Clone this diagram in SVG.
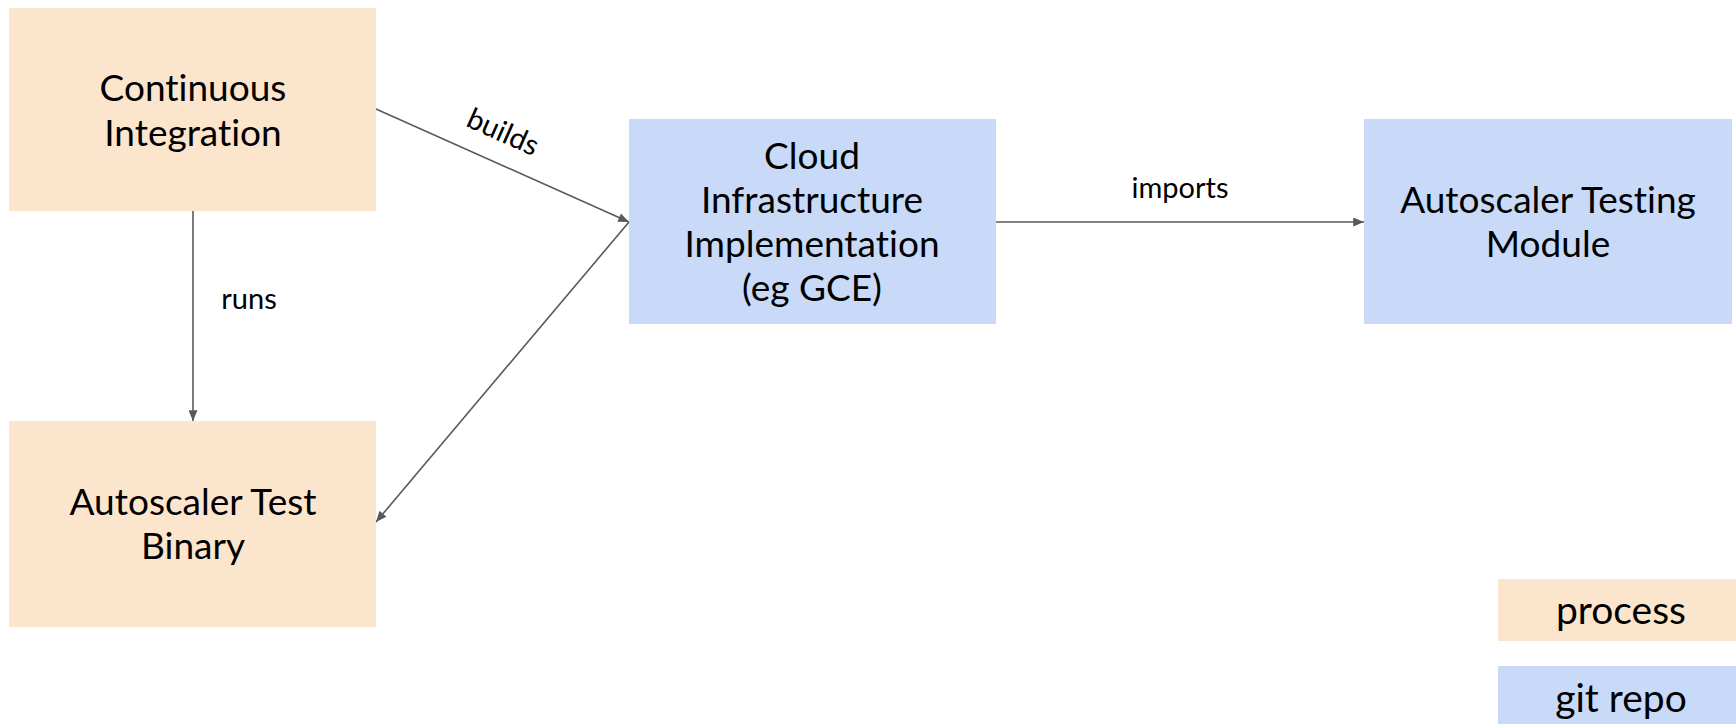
<svg xmlns="http://www.w3.org/2000/svg" width="1736" height="724" viewBox="0 0 1736 724">
<style>
text{font-variant-ligatures:none;font-feature-settings:"liga" 0,"clig" 0}
.proc{fill:#fce5cd}
.repo{fill:#c9daf8}
.t{font-family:Lato,"Liberation Sans",sans-serif;font-size:37px;fill:#000;text-anchor:middle}
.g{font-family:Lato,"Liberation Sans",sans-serif;font-size:39px;fill:#000;text-anchor:middle}
.l{font-family:Lato,"Liberation Sans",sans-serif;font-size:29px;fill:#000;text-anchor:middle}
.c{stroke:#595959;stroke-width:1.6;fill:none;marker-end:url(#ah)}
</style>
<defs>
<marker id="ah" viewBox="0 0 12 10" refX="12" refY="5" markerWidth="12" markerHeight="9" markerUnits="userSpaceOnUse" orient="auto">
<path d="M0,0 L12,5 L0,10 z" fill="#595959"/>
</marker>
</defs>
<rect width="1736" height="724" fill="#fff"/>
<g id="connectors">
<line class="c" x1="193" y1="211" x2="193" y2="421"/>
<text class="l" x="249" y="309">runs</text>
<line class="c" x1="376" y1="109" x2="629" y2="222"/>
<text class="l" transform="translate(499,141) rotate(24.1)">builds</text>
<line class="c" x1="629" y1="222" x2="376" y2="522"/>
<line class="c" x1="996" y1="222" x2="1364" y2="222"/>
<text class="l" x="1180" y="198">imports</text>
</g>
<g id="ci">
<rect class="proc" x="9" y="8" width="367" height="203"/>
<text class="t" x="193" y="101">Continuous</text>
<text class="t" x="193" y="146">Integration</text>
</g>
<g id="binary">
<rect class="proc" x="9" y="421" width="367" height="206"/>
<text class="t" x="193" y="515">Autoscaler Test</text>
<text class="t" x="193" y="559">Binary</text>
</g>
<g id="cloud">
<rect class="repo" x="629" y="119" width="367" height="205"/>
<text class="t" x="812" y="169">Cloud</text>
<text class="t" x="812" y="213">Infrastructure</text>
<text class="t" x="812" y="257">Implementation</text>
<text class="t" x="812" y="301">(eg GCE)</text>
</g>
<g id="module">
<rect class="repo" x="1364" y="119" width="368" height="205"/>
<text class="t" x="1548" y="213">Autoscaler Testing</text>
<text class="t" x="1548" y="257">Module</text>
</g>
<g id="legend-process">
<rect class="proc" x="1498" y="579" width="238" height="62"/>
<text class="g" x="1621" y="624">process</text>
</g>
<g id="legend-repo">
<rect class="repo" x="1498" y="666" width="238" height="58"/>
<text class="g" x="1621" y="712">git repo</text>
</g>
</svg>
